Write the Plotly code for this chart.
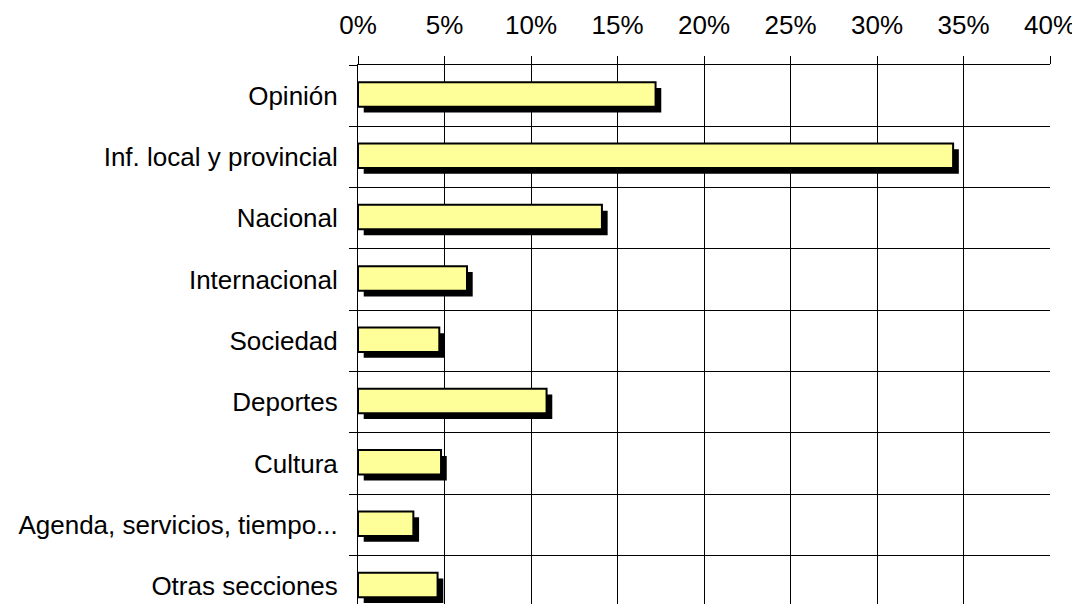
import plotly.graph_objects as go

categories = ["Opinión", "Inf. local y provincial", "Nacional", "Internacional",
              "Sociedad", "Deportes", "Cultura", "Agenda, servicios, tiempo...",
              "Otras secciones"]
values = [17.2, 34.4, 14.1, 6.3, 4.7, 10.9, 4.8, 3.2, 4.6]
x_ticks = [0, 5, 10, 15, 20, 25, 30, 35, 40]
x_tick_labels = [f"{t}%" for t in x_ticks]

FONT = "Arial, Liberation Sans, sans-serif"
BAR_W = 0.40
BAR_OFF = -0.22
SH_DX = 0.33   # shadow offset along value axis (%)
SH_DY = 0.095  # shadow offset along category axis

fig = go.Figure()
fig.add_trace(go.Bar(
    y=categories, x=values, base=SH_DX, orientation="h",
    width=BAR_W, offset=BAR_OFF + SH_DY,
    marker=dict(color="black", line=dict(width=0)),
    hoverinfo="skip", showlegend=False,
))
fig.add_trace(go.Bar(
    y=categories, x=values, base=0, orientation="h",
    width=BAR_W, offset=BAR_OFF,
    marker=dict(color="#FFFF99", line=dict(color="black", width=2)),
    showlegend=False,
))

fig.update_layout(
    width=1072, height=596,
    margin=dict(l=350, r=30, t=57, b=0, autoexpand=False),
    barmode="overlay",
    paper_bgcolor="white", plot_bgcolor="white",
    font=dict(family=FONT, size=26, color="black"),
)
fig.update_xaxes(
    side="top", range=[0, 40], tickvals=x_ticks, ticktext=x_tick_labels,
    showgrid=True, gridcolor="black", gridwidth=1,
    showline=True, linecolor="black", linewidth=1,
    ticks="outside", ticklen=8, tickcolor="black", tickwidth=1,
    ticklabelstandoff=12, zeroline=False, automargin=False,
    tickfont=dict(family=FONT, size=26, color="black"),
)
fig.update_yaxes(
    type="category", range=[8.29, -0.5], tickson="boundaries",
    showgrid=True, gridcolor="black", gridwidth=1,
    showline=True, linecolor="black", linewidth=1,
    ticks="outside", ticklen=8, tickcolor="black", tickwidth=1,
    ticklabelstandoff=14, automargin=False,
    tickfont=dict(family=FONT, size=26, color="black"),
)

fig.write_html("out.html")
